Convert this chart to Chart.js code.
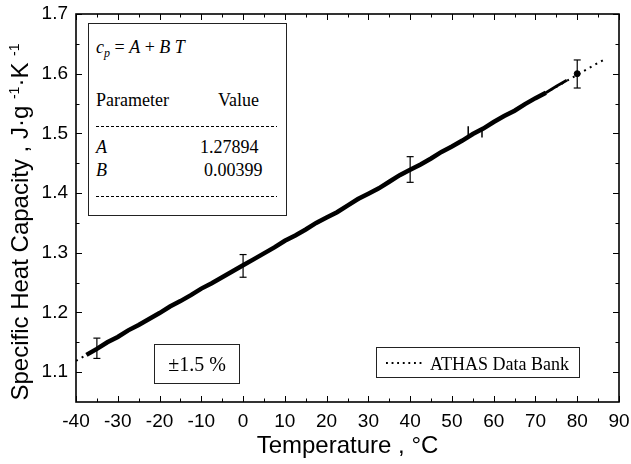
<!DOCTYPE html>
<html>
<head>
<meta charset="utf-8">
<title>Specific heat capacity</title>
<script src="https://cdn.jsdelivr.net/npm/chart.js@4/dist/chart.umd.min.js"></script>
<style>
  html, body { margin: 0; padding: 0; background: #fff; }
  #wrap { position: relative; width: 631px; height: 464px; overflow: hidden; }
  #chart { position: absolute; left: 0; top: 0; }
  .serif { position: absolute; font-family: "Liberation Serif", "Times New Roman", serif; color: #000; white-space: nowrap; }
  .box { position: absolute; border: 1px solid #222; box-sizing: border-box; background: #fff; }
  .dash { position: absolute; height: 1px; background-image: linear-gradient(to right, #000 3px, transparent 3px); background-size: 5px 1px; }
  #ytitle {
    position: absolute; left: -180px; top: 207px; width: 400px; height: 30px;
    line-height: 30px; text-align: center; transform: rotate(-90deg);
    font-family: "Liberation Sans", Arial, sans-serif; font-size: 24px; color: #000; white-space: nowrap;
  }
  #ytitle sup { font-size: 14px; vertical-align: 9px; line-height: 0; }
</style>
</head>
<body>
<div id="wrap">
  <canvas id="chart" width="631" height="464"></canvas>

  <!-- Fit-Tabelle oben links -->
  <div class="box" style="left:88px; top:23px; width:199px; height:193px;"></div>
  <div class="serif" style="left:96px; top:38px; font-size:18px; line-height:18px;"><i>c</i><sub style="font-size:12px; vertical-align:-4px;"><i>p</i></sub> = <i>A</i> + <i>B T</i></div>
  <div class="serif" style="left:96px; top:91px; font-size:18px; line-height:18px;">Parameter</div>
  <div class="serif" style="left:218px; top:91px; font-size:18px; line-height:18px;">Value</div>
  <div class="dash" style="left:96px; top:126px; width:181px;"></div>
  <div class="serif" style="left:96px; top:138px; font-size:18px; line-height:18px;"><i>A</i></div>
  <div class="serif" style="left:200px; top:138px; font-size:18px; line-height:18px;">1.27894</div>
  <div class="serif" style="left:96px; top:161px; font-size:18px; line-height:18px;"><i>B</i></div>
  <div class="serif" style="left:204px; top:161px; font-size:18px; line-height:18px;">0.00399</div>
  <div class="dash" style="left:96px; top:196px; width:181px;"></div>

  <!-- Messunsicherheit -->
  <div class="box" style="left:154px; top:344px; width:86px; height:40px;"></div>
  <div class="serif" style="left:154px; top:354px; width:86px; text-align:center; font-size:20px; line-height:20px;">±1.5 %</div>

  <!-- Legende -->
  <div class="box" style="left:376px; top:347px; width:204px; height:31px;"></div>
  <div style="position:absolute; left:386px; top:362px; width:36px; height:2px; background-image:linear-gradient(to right,#000 2px,transparent 2px); background-size:5.6px 2px;"></div>
  <div class="serif" style="left:430px; top:355px; font-size:18px; line-height:18px;">ATHAS Data Bank</div>

  <div id="ytitle">Specific Heat Capacity , J·g <sup>-1</sup>·K <sup>-1</sup></div>
</div>

<script>
  // Achsen
  const xTickLabels = [-40, -30, -20, -10, 0, 10, 20, 30, 40, 50, 60, 70, 80, 90];
  const yTickLabels = [1.1, 1.2, 1.3, 1.4, 1.5, 1.6, 1.7];

  // Messkurve (alle 2.5 °C)
  const measuredT = [
    -37.5, -35, -32.5, -30, -27.5, -25, -22.5, -20, -17.5, -15, -12.5, -10,
    -7.5, -5, -2.5, 0, 2.5, 5, 7.5, 10, 12.5, 15, 17.5, 20, 22.5, 25, 27.5,
    30, 32.5, 35, 37.5, 40, 42.5, 45, 47.5, 50, 52.5, 55, 57.5, 60, 62.5,
    65, 67.5, 70, 72.5, 75, 77.5,
  ];
  const measuredCp = [
    1.129, 1.139, 1.150, 1.159, 1.170, 1.179, 1.189, 1.199, 1.210, 1.219, 1.229, 1.240,
    1.249, 1.259, 1.269, 1.279, 1.289, 1.299, 1.309, 1.320, 1.329, 1.339, 1.350, 1.359,
    1.368, 1.379, 1.390, 1.399, 1.408, 1.419, 1.430, 1.439, 1.448, 1.458, 1.469, 1.478,
    1.488, 1.499, 1.508, 1.519, 1.529, 1.538, 1.549, 1.559, 1.568, 1.579, 1.589,
  ];

  // Zwei kurze Ausreisser in der Messkurve
  const spikeT = [53.9, 57.2];
  const spikeFrom = [1.494, 1.506];
  const spikeTo = [1.512, 1.493];

  // ATHAS Data Bank (gepunktet)
  const athasT = [-40, 87];
  const athasCp = [1.119, 1.626];

  // Fehlerbalken ±1.5 %
  const errT = [-35, 0, 40, 80];
  const errLow = [1.123, 1.259, 1.418, 1.576];
  const errHigh = [1.157, 1.297, 1.461, 1.623];

  // Einzelpunkt bei 80 °C
  const dotT = [80];
  const dotCp = [1.60];

  const INK = '#000';
  const SANS = '"Liberation Sans", Arial, Helvetica, sans-serif';

  const pairs = (xs, ys) => xs.map((x, i) => ({ x: x, y: ys[i] }));
  // Senkrechte Strecken, durch null-Punkte getrennt
  const segments = (xs, a, b) =>
    xs.flatMap((x, i) => [{ x: x, y: a[i] }, { x: x, y: b[i] }, { x: x, y: null }]);

  // Rahmen rundum mit Ticks nach innen, wie im Original
  const frameTicks = {
    id: 'frameTicks',
    afterDraw(chart) {
      const { ctx, chartArea: a, scales } = chart;
      const x = scales.x, y = scales.y;
      const MAJOR = 6, MINOR = 3.5;
      ctx.save();
      ctx.strokeStyle = INK;
      ctx.lineWidth = 1;
      ctx.beginPath();
      xTickLabels.forEach((v, i) => {
        const px = Math.round(x.getPixelForValue(v)) + 0.5;
        ctx.moveTo(px, a.bottom); ctx.lineTo(px, a.bottom - MAJOR);
        ctx.moveTo(px, a.top); ctx.lineTo(px, a.top + MAJOR);
        if (i < xTickLabels.length - 1) {
          const pm = Math.round(x.getPixelForValue(v + 5)) + 0.5;
          ctx.moveTo(pm, a.bottom); ctx.lineTo(pm, a.bottom - MINOR);
          ctx.moveTo(pm, a.top); ctx.lineTo(pm, a.top + MINOR);
        }
      });
      yTickLabels.forEach((v, i) => {
        const py = Math.round(y.getPixelForValue(v)) + 0.5;
        ctx.moveTo(a.left, py); ctx.lineTo(a.left + MAJOR, py);
        ctx.moveTo(a.right, py); ctx.lineTo(a.right - MAJOR, py);
        if (i < yTickLabels.length - 1) {
          const pm = Math.round(y.getPixelForValue(v + 0.05)) + 0.5;
          ctx.moveTo(a.left, pm); ctx.lineTo(a.left + MINOR, pm);
          ctx.moveTo(a.right, pm); ctx.lineTo(a.right - MINOR, pm);
        }
      });
      ctx.stroke();
      ctx.lineWidth = 1.6;
      ctx.strokeRect(a.left, a.top, a.right - a.left, a.bottom - a.top);
      ctx.restore();
    },
  };

  new Chart(document.getElementById('chart'), {
    type: 'scatter',
    data: {
      datasets: [
        {
          label: 'ATHAS Data Bank',
          data: pairs(athasT, athasCp),
          showLine: true,
          borderColor: INK,
          borderWidth: 2,
          borderDash: [2, 4.5],
          pointRadius: 0,
        },
        {
          label: 'measured',
          data: pairs(measuredT, measuredCp),
          showLine: true,
          borderColor: INK,
          borderWidth: 4.5,
          segment: {
            // zum Ende hin wird die Kurve dünner
            borderWidth: (c) => (c.p0.parsed.x >= 72.5 ? 2.8 : 4.5),
          },
          pointRadius: 0,
        },
        {
          label: 'spikes',
          data: segments(spikeT, spikeFrom, spikeTo),
          showLine: true,
          spanGaps: false,
          borderColor: INK,
          borderWidth: 1.5,
          pointRadius: 0,
        },
        {
          label: 'error bars',
          data: segments(errT, errLow, errHigh),
          showLine: true,
          spanGaps: false,
          borderColor: INK,
          borderWidth: 1.2,
          pointStyle: 'line',
          pointRadius: 3.5,
          pointBorderWidth: 1.2,
          pointBorderColor: INK,
        },
        {
          label: 'dot',
          data: pairs(dotT, dotCp),
          pointRadius: 3,
          pointBackgroundColor: INK,
          pointBorderColor: INK,
        },
      ],
    },
    options: {
      responsive: false,
      animation: false,
      events: [],
      layout: { padding: { left: 0, right: 12, top: 14, bottom: 0 } },
      plugins: {
        legend: { display: false },
        tooltip: { enabled: false },
      },
      scales: {
        x: {
          type: 'linear',
          min: -40,
          max: 90,
          grid: { display: false, drawTicks: false },
          border: { display: false },
          afterBuildTicks: (s) => { s.ticks = xTickLabels.map((v) => ({ value: v })); },
          afterFit: (s) => { s.height = 62; s.paddingLeft = 0; s.paddingRight = 0; },
          ticks: {
            autoSkip: false,
            maxRotation: 0,
            padding: 8,
            color: INK,
            font: { family: SANS, size: 19 },
            callback: (v) => String(v),
          },
          title: {
            display: true,
            text: 'Temperature , °C',
            color: INK,
            font: { family: SANS, size: 24 },
            padding: { top: 0, bottom: 3 },
          },
        },
        y: {
          type: 'linear',
          min: 1.05,
          max: 1.7,
          grid: { display: false, drawTicks: false },
          border: { display: false },
          afterBuildTicks: (s) => { s.ticks = yTickLabels.map((v) => ({ value: v })); },
          afterFit: (s) => { s.width = 76; s.paddingTop = 0; s.paddingBottom = 0; },
          ticks: {
            autoSkip: false,
            padding: 8,
            color: INK,
            font: { family: SANS, size: 19 },
            callback: (v) => v.toFixed(1),
          },
        },
      },
    },
    plugins: [frameTicks],
  });
</script>
</body>
</html>
